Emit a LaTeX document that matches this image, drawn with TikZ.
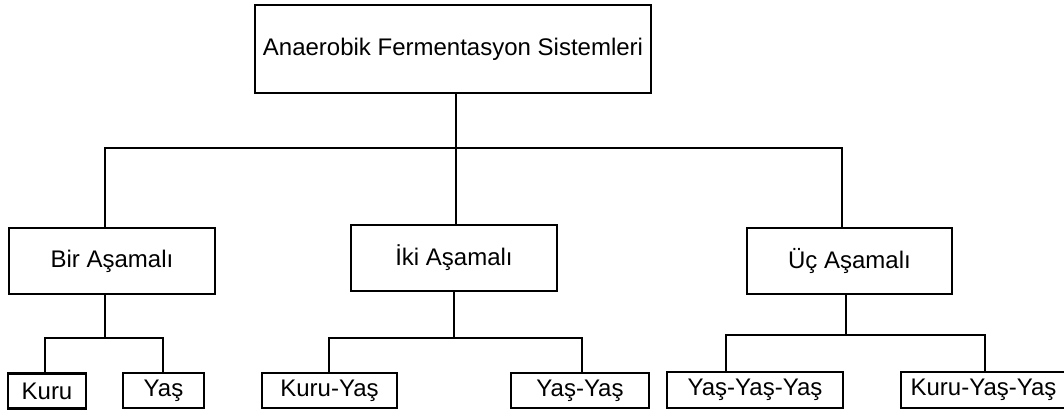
\documentclass[tikz,border=0pt]{standalone}
\usepackage{fontspec}
\setmainfont{Liberation Sans}

\begin{document}
\begin{tikzpicture}[x=1pt,y=1pt]
    \tikzstyle{every node}+=[inner sep=0pt,font=\fontsize{24}{28}\selectfont]
    \tikzstyle{topbox}=[draw,line width=2.6pt,minimum width=396pt,minimum height=88pt]
    \tikzstyle{midbox}=[draw,line width=2.6pt,minimum width=206pt,minimum height=66pt]
    \tikzstyle{leafbox}=[draw,line width=2.6pt,minimum height=35pt]
    \tikzstyle{link}=[line width=2.2pt]
    \useasboundingbox (0,0) rectangle (1064,-411);
    % boxes
    \node [topbox] (sys) at (453,-49) {Anaerobik Fermentasyon Sistemleri};
    \node [midbox] (bir) at (112,-261) {Bir Aşamalı};
    \node [midbox] (iki) at (454,-258) {İki Aşamalı};
    \node [midbox,minimum width=205pt] (uc) at (849.5,-261) {Üç Aşamalı};
    \node [leafbox,minimum width=78pt] (kuru) at (47,-391) {Kuru};
    \node [leafbox,minimum width=81pt] (yas) at (163.5,-390.5) {Yaş};
    \node [leafbox,minimum width=135pt] (kuruyas) at (329.5,-390.5) {Kuru-Yaş};
    \node [leafbox,minimum width=138pt] (yasyas) at (580,-390.5) {Yaş-Yaş};
    \node [leafbox,minimum width=176pt,minimum height=36pt] (yyy) at (755,-390) {Yaş-Yaş-Yaş};
    \node [leafbox,minimum width=165pt,minimum height=36pt] (kyy) at (983.5,-390) {Kuru-Yaş-Yaş};
    % bars
    \coordinate (barL) at (105,-148);
    \coordinate (barM) at (456,-148);
    \coordinate (barR) at (842,-148);
    \coordinate (birL) at (45,-338);
    \coordinate (birM) at (105,-338);
    \coordinate (birR) at (163,-338);
    \coordinate (ikiL) at (329,-338);
    \coordinate (ikiM) at (454,-338);
    \coordinate (ikiR) at (582,-338);
    \coordinate (ucL) at (726,-335);
    \coordinate (ucM) at (846,-335);
    \coordinate (ucR) at (985,-335);
    % level 1
    \draw [link] (sys.south -| barM) -- (barM);
    \draw [link] (bir.north -| barL) -- (barL) -- (barR) -- (barR |- uc.north);
    \draw [link] (barM) -- (barM |- iki.north);
    % level 2
    \draw [link] (bir.south -| birM) -- (birM);
    \draw [link] (kuru.north -| birL) -- (birL) -- (birR) -- (birR |- yas.north);
    \draw [link] (iki.south -| ikiM) -- (ikiM);
    \draw [link] (kuruyas.north -| ikiL) -- (ikiL) -- (ikiR) -- (ikiR |- yasyas.north);
    \draw [link] (uc.south -| ucM) -- (ucM);
    \draw [link] (yyy.north -| ucL) -- (ucL) -- (ucR) -- (ucR |- kyy.north);
\end{tikzpicture}
\end{document}
